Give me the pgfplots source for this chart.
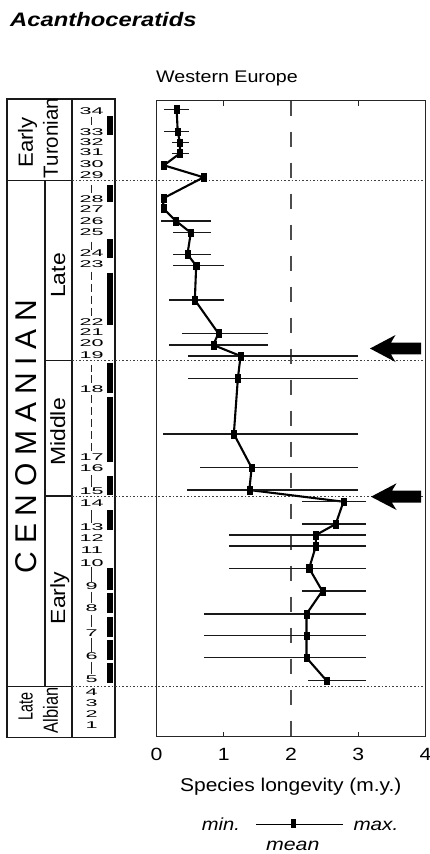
\documentclass[border=0pt]{standalone}
\usepackage{pgfplots}
\pgfplotsset{compat=1.18}
\usepackage{pgfplotstable}
\usepackage{graphicx}
\usepackage{fontspec}
\setmainfont{Liberation Sans}
\newcommand\fs[1]{\fontsize{#1bp}{#1bp}\selectfont}
\newcommand\sx[2]{\scalebox{#1}[1]{#2}}

% y = vertical position (px from top), mean/min/max species longevity (m.y.)
\pgfplotstableread{
y mean min max
109.3 0.30 0.11 0.49
131.7 0.315 0.11 0.49
142.7 0.35 0.235 0.49
153.3 0.35 0.235 0.49
165.3 0.11 0.11 0.11
177.3 0.70 0.70 0.70
198.3 0.10 0.10 0.10
208.3 0.10 0.10 0.10
221.0 0.29 0.06 0.81
232.7 0.51 0.25 0.81
254.3 0.46 0.25 0.81
265.7 0.59 0.25 1.01
300.0 0.57 0.19 1.01
333.3 0.92 0.375 1.66
345.0 0.845 0.19 1.66
356.0 1.25 0.47 2.99
378.3 1.21 0.47 2.99
434.0 1.15 0.09 2.99
467.7 1.415 0.65 2.99
490.0 1.38 0.45 2.99
501.7 2.78 2.17 3.11
524.0 2.665 2.17 3.11
535.0 2.37 1.08 3.11
546.0 2.37 1.08 3.11
568.3 2.27 1.08 3.11
591.0 2.465 2.17 3.11
614.0 2.23 0.70 3.11
635.7 2.23 0.70 3.11
657.7 2.23 0.70 3.11
680.7 2.53 2.25 3.11
}\longevity

% black zone bars in the stratigraphic column
\pgfplotstableread{
x y
109.75 116
109.75 135
nan nan
109.75 185
109.75 201.7
nan nan
109.75 239
109.75 258
nan nan
109.75 272.7
109.75 325
nan nan
109.75 362.7
109.75 393
nan nan
109.75 396.7
109.75 461.7
nan nan
109.75 476
109.75 495
nan nan
109.75 510
109.75 530
nan nan
109.75 568
109.75 590
nan nan
109.75 592.7
109.75 613.3
nan nan
109.75 616.7
109.75 636.7
nan nan
109.75 640
109.75 660
nan nan
109.75 663.3
109.75 683.3
}\zonebars

\begin{document}
\begin{tikzpicture}[x=1bp,y=-1bp]
\useasboundingbox (0,0) rectangle (429,854);

% ---- titles
\node[anchor=base west, inner sep=0pt, font=\fs{19.5}\bfseries\itshape] at (10,26.7) {\sx{1.22}{Acanthoceratids}};
\node[anchor=base, inner sep=0pt, font=\fs{16.8}] at (227,82.7) {\sx{1.17}{Western Europe}};

% ---- stratigraphic column frame
\begin{scope}[line width=1.1bp, black!90]
\draw (7,99) rectangle (115,737.3);
\draw (72,99) -- (72,737.3);
\draw (45,181) -- (45,687);
\draw (7,180.7) -- (72,180.7);
\draw (7,686.7) -- (72,686.7);
\draw (45,360.7) -- (72,360.7);
\draw (45,496) -- (72,496);
\end{scope}
\foreach \yy in {180.7,360.7,496,686.7}
  \draw[black!75, line width=1bp, dash pattern=on 1.6bp off 2bp] (72,\yy) -- (425.5,\yy);

% stage labels
\node[rotate=90, anchor=base, inner sep=0pt, font=\fs{20.5}] at (32.8,142.5) {\sx{1.08}{Early}};
\node[rotate=90, anchor=base, inner sep=0pt, font=\fs{20.5}] at (57.8,138) {Turonian};
\node[rotate=90, anchor=center, inner sep=0pt, font=\fs{30}] at (25.8,436.5)
  {C\hspace{7.8bp}E\hspace{7.8bp}N\hspace{7.8bp}O\hspace{7.8bp}M\hspace{7.8bp}A\hspace{7.8bp}N\hspace{7.8bp}I\hspace{7.8bp}A\hspace{7.8bp}N};
\node[rotate=90, anchor=base, inner sep=0pt, font=\fs{20.5}] at (65,275.5) {\sx{1.12}{Late}};
\node[rotate=90, anchor=base, inner sep=0pt, font=\fs{20.5}] at (65,432) {\sx{1.12}{Middle}};
\node[rotate=90, anchor=base, inner sep=0pt, font=\fs{20.5}] at (65,598) {\sx{1.12}{Early}};
\node[rotate=90, anchor=base, inner sep=0pt, font=\fs{20.5}] at (32.6,706.5) {\sx{0.7}{Late}};
\node[rotate=90, anchor=base, inner sep=0pt, font=\fs{20.5}] at (57.9,710.5) {\sx{0.8}{Albian}};

% zone numbers
\foreach \n/\yy in {34/110.7,33/131.7,32/141.7,31/152.3,30/164,29/175,28/199,27/209.3,26/220.7,25/231.7,24/253.3,23/264.3,22/321.7,21/332.3,20/343.3,19/355,18/389,17/456.7,16/468.3,15/490.7,14/503.3,13/526.7,12/538.3,11/550,10/562.7,9/586,8/608.3,7/632.7,6/656,5/679.3,4/692.2,3/703.3,2/714.3,1/725}
  \node[anchor=center, inner sep=0pt, font=\fs{9.8}] at (91.7,\yy) {\sx{2.2}{\n}};
% tie marks
\begin{scope}[line width=1.2bp, black!85]
\foreach \a/\b in {116.7/125,185/193,241.7/250,475/486.7,510/523,566.7/581.7,591.7/603.3,615/626.7,638/651.7,661.7/674,365/372,375/383}
  \draw (91.7,\a) -- (91.7,\b);
\draw[dash pattern=on 8bp off 4bp] (91.7,271.7) -- (91.7,316);
\draw[dash pattern=on 8bp off 4bp] (91.7,395) -- (91.7,451.7);
\end{scope}

% ---- main plot
\begin{axis}[
  at={(156.5bp,-736.7bp)}, anchor=south west,
  scale only axis, width=269bp, height=636bp,
  xmin=0, xmax=4, ymin=100.7, ymax=736.7, y dir=reverse,
  ytick=\empty,
  xtick={0,1,2,3,4},
  xticklabels={\sx{1.2}{0},\sx{1.2}{1},\sx{1.2}{2},\sx{1.2}{3},\sx{1.2}{4}\hspace{5bp}},
  xticklabel style={font=\fs{17.7}, anchor=base, inner sep=0pt, yshift=-24bp},
  tick align=inside, major tick length=5bp,
  every tick/.style={black!85, line width=1bp},
  axis line style={black!85, line width=1.1bp},
  clip=false,
]
\addplot[black!70, line width=1.2bp, dash pattern=on 15bp off 16bp, forget plot]
  coordinates {(2,100.7) (2,736.7)};
\addplot[black, line width=2.1bp, mark=square*,
  mark size=2.7bp, mark options={solid, xscale=0.95, yscale=1.4, line width=0.3bp},
  error bars/.cd, x dir=both, x explicit, error mark=none,
  error bar style={line width=1.05bp, black!90}]
  table[x=mean, y=y,
    x error plus expr={\thisrow{max}-\thisrow{mean}},
    x error minus expr={\thisrow{mean}-\thisrow{min}}] {\longevity};
\end{axis}

% arrows
\fill[black] (370,348.5) -- (395.5,335) -- (391,342.6) -- (421,342.6) -- (421,354.4) -- (391,354.4) -- (395.5,362) -- cycle;
\fill[black] (371,496.7) -- (396.5,483.3) -- (392,490.7) -- (421,490.7) -- (421,502.7) -- (392,502.7) -- (396.5,510) -- cycle;

% x label
\node[anchor=base, inner sep=0pt, font=\fs{18.5}] at (290.8,791.7) {\sx{1.135}{Species longevity (m.y.)}};

% ---- overlay axis: zone bars and legend key
\begin{axis}[
  at={(0bp,-854bp)}, anchor=south west,
  scale only axis, width=429bp, height=854bp,
  xmin=0, xmax=429, ymin=0, ymax=854, y dir=reverse,
  hide axis, clip=false,
]
\addplot[black, line width=5.5bp, unbounded coords=jump] table[x=x,y=y] {\zonebars};
\addplot[black, line width=1bp] coordinates {(256,824) (342.7,824)};
\addplot[black, only marks, mark=square*, mark size=2.5bp, mark options={xscale=0.85, yscale=1.6}]
  coordinates {(293.3,823.5)};
\end{axis}

% legend text
\node[anchor=base west, inner sep=0pt, font=\fs{17.5}\itshape] at (201.7,830) {\sx{1.15}{min.}};
\node[anchor=base west, inner sep=0pt, font=\fs{17.5}\itshape] at (353.3,830) {\sx{1.18}{max.}};
\node[anchor=base, inner sep=0pt, font=\fs{17.5}\itshape] at (292.7,850) {\sx{1.22}{mean}};

\end{tikzpicture}
\end{document}
